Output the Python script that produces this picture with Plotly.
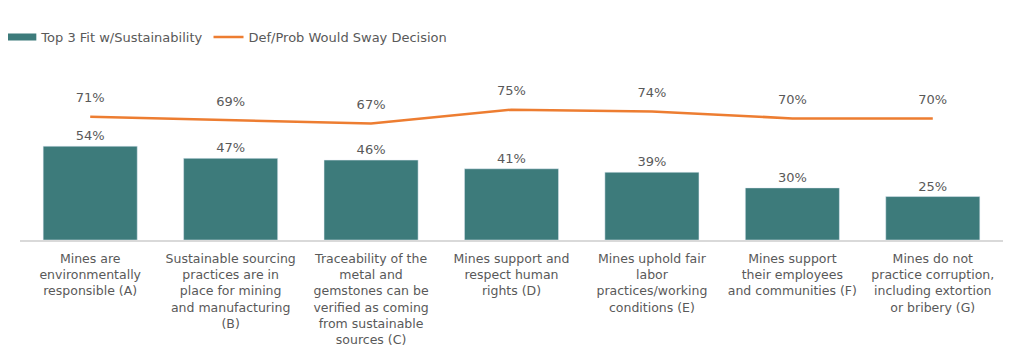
import plotly.graph_objects as go

categories = [
    "Mines are<br>environmentally<br>responsible (A)",
    "Sustainable sourcing<br>practices are in<br>place for mining<br>and manufacturing<br>(B)",
    "Traceability of the<br>metal and<br>gemstones can be<br>verified as coming<br>from sustainable<br>sources (C)",
    "Mines support and<br>respect human<br>rights (D)",
    "Mines uphold fair<br>labor<br>practices/working<br>conditions (E)",
    "Mines support<br>their employees<br>and communities (F)",
    "Mines do not<br>practice corruption,<br>including extortion<br>or bribery (G)",
]
top3_fit = [54, 47, 46, 41, 39, 30, 25]
would_sway = [71, 69, 67, 75, 74, 70, 70]

TEAL = "#3D7B7B"
ORANGE = "#ED7D31"
GRAY = "#595959"
FONT = "DejaVu Sans"

fig = go.Figure()
fig.add_trace(go.Bar(
    x=categories, y=top3_fit, name="Top 3 Fit w/Sustainability",
    marker_color=TEAL, width=0.67, showlegend=False,
    text=[f"{v}%" for v in top3_fit], textposition="outside",
    textfont=dict(size=13, color=GRAY, family=FONT), cliponaxis=False,
))
# legend swatch for bars (wide rectangle like the original)
fig.add_trace(go.Scatter(
    x=[None], y=[None], name="Top 3 Fit w/Sustainability", mode="lines",
    line=dict(color=TEAL, width=7), showlegend=True,
))
fig.add_trace(go.Scatter(
    x=categories, y=would_sway, name="Def/Prob Would Sway Decision",
    mode="lines+markers+text", line=dict(color=ORANGE, width=2.5),
    marker=dict(size=16, color="rgba(0,0,0,0)"),
    text=[f"{v}%" for v in would_sway], textposition="top center",
    textfont=dict(size=13, color=GRAY, family=FONT), cliponaxis=False,
))

fig.update_layout(
    width=1016, height=352,
    margin=dict(l=12, r=21, t=93, b=120, autoexpand=False),
    paper_bgcolor="white", plot_bgcolor="white",
    font=dict(family=FONT, color=GRAY, size=13),
    showlegend=True,
    legend=dict(orientation="h", x=-0.019, y=1.46, xanchor="left", yanchor="middle",
                font=dict(size=13, color=GRAY, family=FONT), traceorder="normal",
                itemwidth=30),
    xaxis=dict(showgrid=False, showline=True, linecolor="#D9D9D9", linewidth=1.5,
               ticks="", tickfont=dict(size=12.5, color=GRAY, family=FONT), tickangle=0,
               automargin=False, ticklabelstandoff=6),
    yaxis=dict(range=[0, 80], visible=False, showgrid=False, automargin=False),
)
fig.write_html("out.html")
